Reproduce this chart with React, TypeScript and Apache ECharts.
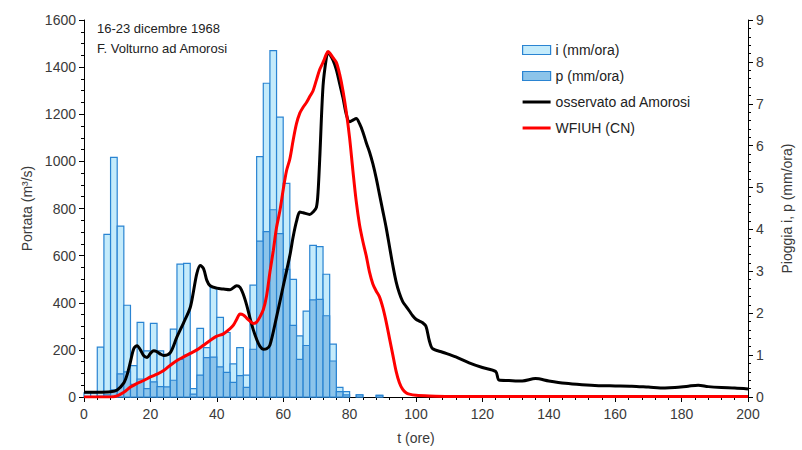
import React, { useEffect, useRef } from "react";
import * as echarts from "echarts";

// rainfall bars: centre of each 2-hour interval (ore)
const rainT = [1, 3, 5, 7, 9, 11, 13, 15, 17, 19, 21, 23, 25, 27, 29, 31, 33, 35, 37, 39, 41, 43, 45, 47, 49, 51, 53, 55, 57, 59, 61, 63, 65, 67, 69, 71, 73, 75, 77, 79, 83, 89];
// i (mm/ora)
const rainI = [0.1, 0.1, 1.19, 3.88, 5.72, 4.08, 2.19, 0.75, 1.78, 1.1, 1.76, 1.1, 1.0, 1.62, 3.17, 3.19, 0.2, 1.64, 1.18, 2.61, 1.9, 1.54, 0.79, 1.18, 0.52, 2.67, 5.74, 7.49, 8.27, 6.68, 5.1, 2.81, 1.46, 2.05, 3.62, 3.59, 2.93, 1.26, 0.23, 0.13, 0.05, 0.04];
// p (mm/ora)
const rainP = [0, 0, 0.02, 0.05, 0.17, 0.55, 0.6, 0.3, 0.43, 0.2, 0.36, 0.25, 0.24, 0.4, 0.9, 1.0, 0.07, 0.52, 0.94, 0.95, 0.72, 0.59, 0.35, 0.51, 0.23, 1.14, 3.72, 3.95, 4.47, 3.9, 3.05, 1.71, 0.9, 1.23, 2.32, 2.33, 1.94, 0.86, 0.13, 0.05, 0.05, 0.04];

// observed discharge at Amorosi (m3/s)
const obsT = [0, 4, 8, 10, 12, 13, 14, 15, 16, 17, 18, 19, 20, 21, 22, 23, 24, 26, 28, 30, 32, 33, 34, 35, 36, 37, 38, 40, 42, 44, 46, 47, 48, 49, 50, 51, 52, 53, 54, 55, 56, 58, 60, 62, 63, 64, 65, 66, 68, 69, 70, 70.5, 71, 72, 73, 73.5, 74, 75, 76, 77, 78, 79, 80, 81, 82, 83, 84, 85, 86, 87, 88, 89, 90, 91, 92, 93, 94, 95, 96, 97, 98, 99, 100, 101, 102, 103, 104, 105, 108, 112, 116, 120, 124, 125, 128, 132, 136, 140, 145, 150, 155, 160, 165, 170, 175, 178, 182, 185, 188, 192, 196, 200];
const obsQ = [20, 20, 22, 30, 60, 95, 150, 205, 218, 200, 175, 168, 185, 196, 192, 182, 176, 188, 255, 315, 380, 450, 525, 558, 545, 495, 472, 462, 458, 455, 472, 465, 435, 390, 335, 285, 245, 215, 203, 205, 220, 340, 470, 600, 680, 745, 785, 782, 775, 785, 805, 870, 1010, 1320, 1440, 1463, 1455, 1430, 1390, 1330, 1270, 1200, 1168, 1175, 1182, 1160, 1125, 1080, 1040, 990, 930, 860, 790, 720, 640, 560, 490, 440, 405, 385, 365, 345, 330, 322, 315, 300, 240, 205, 190, 170, 145, 125, 108, 72, 70, 68, 78, 68, 58, 52, 48, 47, 46, 42, 38, 40, 46, 50, 44, 40, 38, 34];

// WFIUH (CN) simulated discharge (m3/s)
const simT = [0, 8, 10, 12, 14, 16, 18, 20, 22, 24, 26, 28, 30, 32, 34, 36, 38, 40, 42, 44, 45, 46, 47, 48, 49, 50, 51, 52, 53, 54, 55, 56, 57, 58, 59, 60, 61, 62, 63, 64, 65, 66, 67, 68, 69, 70, 71, 72, 73, 73.5, 74, 75, 76, 77, 78, 79, 80, 81, 82, 83, 84, 85, 86, 87, 88, 89, 90, 91, 92, 93, 94, 95, 96, 97, 98, 100, 104, 110, 150, 200];
const simQ = [0, 0, 5, 20, 42, 58, 70, 85, 97, 112, 135, 155, 170, 185, 200, 220, 240, 258, 268, 290, 305, 330, 352, 348, 335, 322, 312, 318, 340, 370, 430, 530, 620, 720, 790, 880, 960, 1010, 1090, 1160, 1205, 1230, 1250, 1275, 1300, 1345, 1390, 1420, 1455, 1466, 1460, 1440, 1420, 1370, 1300, 1210, 1100, 960, 830, 730, 660, 600, 530, 480, 450, 425, 380, 320, 250, 180, 110, 60, 32, 18, 12, 7, 4, 2, 2, 2];

const tickX = [0, 20, 40, 60, 80, 100, 120, 140, 160, 180, 200];

const FONT = "Liberation Sans";
const LINE_ICON = "path://M0,0 L28,0 L28,3 L0,3 Z";

export default function App() {
  const ref = useRef<HTMLDivElement>(null);
  useEffect(() => {
    document.body.style.margin = "0";
    const chart = echarts.init(ref.current!, null, { renderer: "svg" });
    const pair = (ts: number[], vs: number[]) => ts.map((t, k) => [t, vs[k]]);
    const barSeries = (name: string, vals: number[], fill: string) => ({
      name,
      type: "custom",
      xAxisIndex: 0,
      yAxisIndex: 1,
      data: pair(rainT, vals),
      itemStyle: { color: fill, borderColor: "#2a84d2" },
      renderItem: (params: any, api: any) => {
        const t = api.value(0);
        const v = api.value(1);
        const a = api.coord([t - 1, v]);
        const b = api.coord([t + 1, 0]);
        return {
          type: "rect",
          shape: { x: a[0], y: a[1], width: b[0] - a[0], height: b[1] - a[1] },
          style: { fill, stroke: "#2a84d2", lineWidth: 1.2 },
        };
      },
    });
    const axisLine = { show: true, lineStyle: { color: "#000", width: 1 } };
    const labelStyle = { color: "#3a3a3a", fontSize: 14, fontFamily: FONT };
    chart.setOption({
      animation: false,
      textStyle: { fontFamily: FONT },
      grid: { left: 84, right: 47, top: 20, bottom: 52 },
      legend: {
        orient: "vertical",
        left: 517,
        top: 38,
        itemGap: 12,
        itemWidth: 28,
        itemHeight: 9,
        symbolKeepAspect: true,
        textStyle: { fontSize: 14, color: "#222", fontFamily: FONT },
        data: [
          { name: "i (mm/ora)", icon: "rect", itemStyle: { color: "#c4ebfb", borderColor: "#2a84d2", borderWidth: 1.2 } },
          { name: "p (mm/ora)", icon: "rect", itemStyle: { color: "#8cc4ea", borderColor: "#2a84d2", borderWidth: 1.2 } },
          { name: "osservato ad Amorosi", icon: LINE_ICON, itemStyle: { color: "#000" } },
          { name: "WFIUH (CN)", icon: LINE_ICON, itemStyle: { color: "#ff0000" } },
        ],
      },
      xAxis: {
        type: "value",
        min: 0,
        max: 200,
        interval: 20,
        name: "t (ore)",
        nameLocation: "middle",
        nameGap: 34,
        nameTextStyle: { ...labelStyle },
        axisLine,
        axisTick: { show: true, length: 5, lineStyle: { color: "#000" } },
        minorTick: { show: true, splitNumber: 5, length: 3, lineStyle: { color: "#000" } },
        axisLabel: { ...labelStyle, margin: 10, formatter: (v: number) => (tickX.includes(v) ? String(v) : "") },
        splitLine: { show: false },
      },
      yAxis: [
        {
          type: "value",
          min: 0,
          max: 1600,
          interval: 200,
          name: "Portata (m³/s)",
          nameLocation: "middle",
          nameRotate: 90,
          nameGap: 50,
          nameTextStyle: { ...labelStyle },
          axisLine,
          axisTick: { show: true, length: 5, lineStyle: { color: "#000" } },
          minorTick: { show: true, splitNumber: 4, length: 3, lineStyle: { color: "#000" } },
          axisLabel: { ...labelStyle, margin: 8, formatter: (v: number) => String(v) },
          splitLine: { show: false },
        },
        {
          type: "value",
          min: 0,
          max: 9,
          interval: 1,
          position: "right",
          name: "Pioggia i, p (mm/ora)",
          nameLocation: "middle",
          nameRotate: 90,
          nameGap: 32,
          nameTextStyle: { ...labelStyle },
          axisLine,
          axisTick: { show: true, length: 5, lineStyle: { color: "#000" } },
          minorTick: { show: true, splitNumber: 5, length: 3, lineStyle: { color: "#000" } },
          axisLabel: { ...labelStyle, margin: 8, formatter: (v: number) => String(v) },
          splitLine: { show: false },
        },
      ],
      graphic: [
        { type: "text", left: 97, top: 22, style: { text: "16-23 dicembre 1968", fontSize: 13, fill: "#222", fontFamily: FONT } },
        { type: "text", left: 97, top: 42, style: { text: "F. Volturno ad Amorosi", fontSize: 13, fill: "#222", fontFamily: FONT } },
      ],
      series: [
        barSeries("i (mm/ora)", rainI, "#c4ebfb"),
        barSeries("p (mm/ora)", rainP, "#8cc4ea"),
        {
          name: "osservato ad Amorosi",
          type: "line",
          yAxisIndex: 0,
          data: pair(obsT, obsQ),
          symbol: "none",
          smooth: 0.3,
          itemStyle: { color: "#000" },
          lineStyle: { color: "#000", width: 3 },
          z: 3,
        },
        {
          name: "WFIUH (CN)",
          type: "line",
          yAxisIndex: 0,
          data: pair(simT, simQ),
          symbol: "none",
          smooth: 0.3,
          itemStyle: { color: "#ff0000" },
          lineStyle: { color: "#ff0000", width: 3 },
          z: 4,
        },
      ],
    });
    return () => chart.dispose();
  }, []);
  return <div ref={ref} style={{ width: 802, height: 450 }} />;
}
